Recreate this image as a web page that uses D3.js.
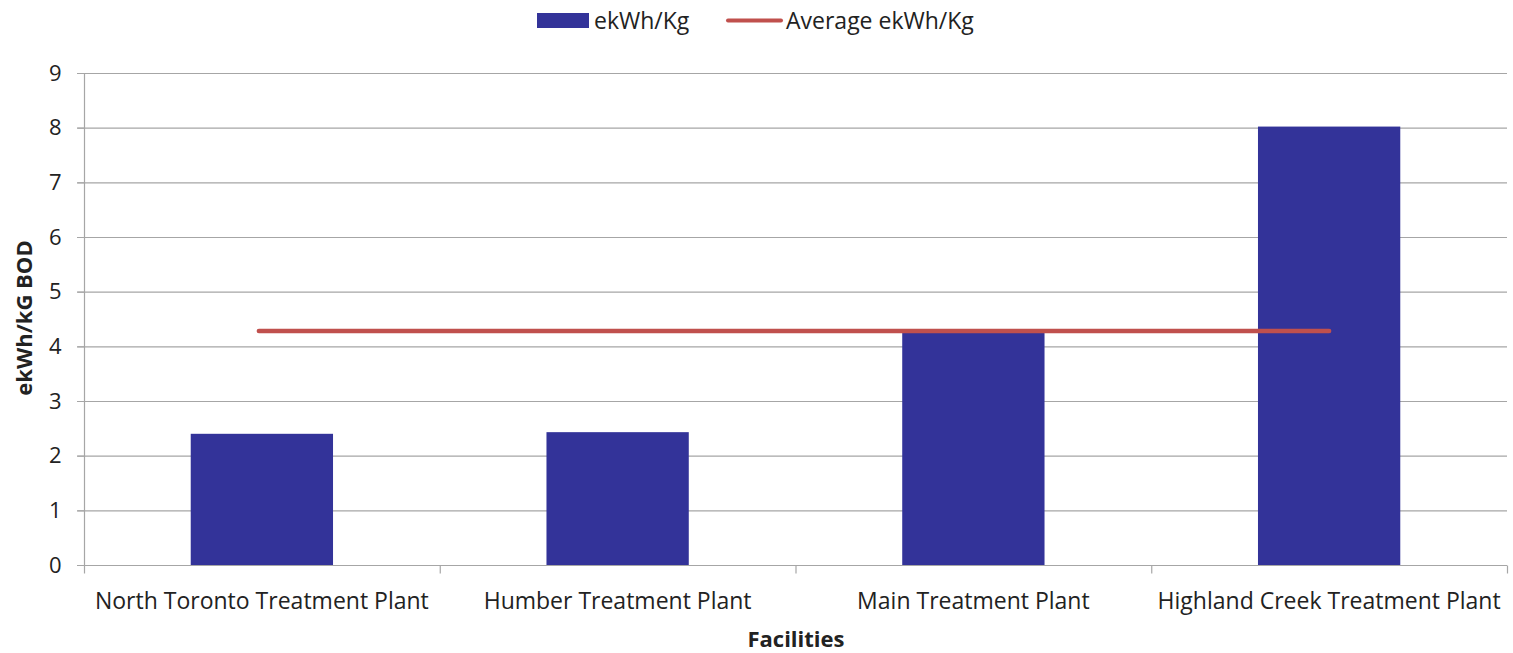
<!DOCTYPE html>
<html><head><meta charset="utf-8">
<script src="https://cdn.jsdelivr.net/npm/d3@7"></script>
<style>body{margin:0;background:#fff}svg{display:block}text{font-family:"Open Sans","Noto Sans",sans-serif;fill:#222}</style>
</head><body><svg id="c" width="1513" height="653"></svg>
<script>
const categories = ["North Toronto Treatment Plant","Humber Treatment Plant","Main Treatment Plant","Highland Creek Treatment Plant"];
const values = [2.40, 2.43, 4.25, 8.02];
const averageValue = [4.28, 4.28, 4.28, 4.28];
const yTicks = [0,1,2,3,4,5,6,7,8,9];
const seriesNames = ["ekWh/Kg","Average ekWh/Kg"];

const svg = d3.select("#c");
const m = {l:84, r:1507, t:73, b:565};
const x = d3.scaleBand().domain(categories).range([m.l, m.r]).paddingInner(0).paddingOuter(0);
const y = d3.scaleLinear().domain([0,9]).range([m.b, m.t]);
const grid = "#a6a6a6";

// gridlines
svg.append("g").selectAll("line").data(yTicks).join("line")
  .attr("x1", m.l-7).attr("x2", m.r).attr("y1", d=>y(d)+0.5).attr("y2", d=>y(d)+0.5)
  .attr("stroke", grid).attr("stroke-width",1.2);

// y axis
const ya = svg.append("g").attr("transform",`translate(${m.l+0.5},0)`)
  .call(d3.axisLeft(y).tickValues(yTicks).tickSize(7).tickPadding(16));
ya.select(".domain").attr("stroke",grid).attr("stroke-width",1.2).attr("d",`M0,${m.t}V${m.b}`);
ya.selectAll(".tick line").attr("stroke",grid);
ya.selectAll("text").style("font-size","22px").attr("fill","#222");

// bars
const bw = x.bandwidth()*0.4;
svg.append("g").selectAll("rect").data(values).join("rect")
  .attr("x",(d,i)=>x(categories[i])+x.bandwidth()/2-bw/2)
  .attr("width",bw)
  .attr("y",d=>y(d)).attr("height",d=>y(0)-y(d))
  .attr("fill","#333399");

// x axis
const xa = svg.append("g").attr("transform",`translate(0,${m.b+0.5})`);
xa.append("line").attr("x1",m.l).attr("x2",m.r).attr("stroke",grid).attr("stroke-width",1.2);
const bounds = categories.map(c=>x(c)).concat([m.r]);
xa.selectAll(".tk").data(bounds).join("line").attr("class","tk")
  .attr("x1",d=>d+0.5).attr("x2",d=>d+0.5).attr("y1",0).attr("y2",8).attr("stroke",grid).attr("stroke-width",1.2);
xa.selectAll("text").data(categories).join("text")
  .attr("x",d=>x(d)+x.bandwidth()/2).attr("y",43)
  .attr("text-anchor","middle").style("font-size","23px").text(d=>d);

// average line
const line = d3.line().x((d,i)=>x(categories[i])+x.bandwidth()/2 - (i===0?3:0)).y(d=>y(d));
svg.append("path").datum(averageValue).attr("d",line)
  .attr("fill","none").attr("stroke","#C0504D").attr("stroke-width",4.5).attr("stroke-linecap","round");

// axis titles
svg.append("text").attr("transform","translate(32,318) rotate(-90)")
  .attr("text-anchor","middle").style("font-size","22px").style("font-weight","bold").text("ekWh/kG BOD");
svg.append("text").attr("x",796).attr("y",647).attr("text-anchor","middle")
  .style("font-size","22px").style("font-weight","bold").text("Facilities");

// legend
const lg = svg.append("g");
lg.append("rect").attr("x",537).attr("y",13).attr("width",52).attr("height",15).attr("fill","#333399");
lg.append("text").attr("x",594).attr("y",29).style("font-size","23px").text(seriesNames[0]);
lg.append("line").attr("x1",728).attr("x2",781).attr("y1",20.5).attr("y2",20.5).attr("stroke","#C0504D").attr("stroke-width",4).attr("stroke-linecap","round");
lg.append("text").attr("x",786).attr("y",29).style("font-size","23px").text(seriesNames[1]);
</script></body></html>
